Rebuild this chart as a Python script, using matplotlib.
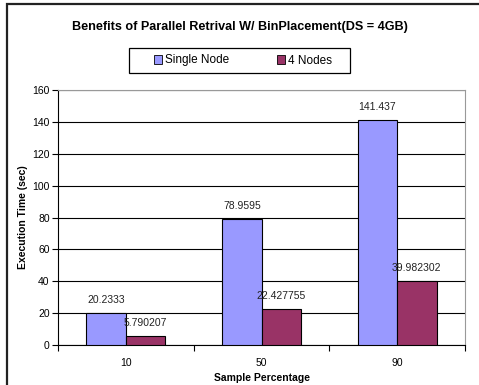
import matplotlib.pyplot as plt
from matplotlib.patches import Patch, Rectangle
import numpy as np

plt.rcParams['font.family'] = ['Liberation Sans', 'DejaVu Sans']

categories = ["10", "50", "90"]
single_node = [20.2333, 78.9595, 141.437]
four_nodes = [5.790207, 22.427755, 39.982302]
single_labels = ["20.2333", "78.9595", "141.437"]
four_labels = ["5.790207", "22.427755", "39.982302"]

W, H = 479, 385
fig = plt.figure(figsize=(W / 100, H / 100), dpi=100)

# chart frame (only left and top edges fall inside the image)
fig.patches.append(Rectangle((7 / W, -0.1), 1.2, 1 - 4 / H + 0.1, transform=fig.transFigure,
                             fill=False, edgecolor='#222222', linewidth=1.6))

ax = fig.add_axes([58 / W, 1 - 345 / H, 407 / W, 255 / H])

x = np.arange(len(categories))
bw = 0.29
b1 = ax.bar(x - bw / 2, single_node, bw, color='#9999FF', edgecolor='black', linewidth=0.8, zorder=3)
b2 = ax.bar(x + bw / 2, four_nodes, bw, color='#993366', edgecolor='black', linewidth=0.8, zorder=3)

for rect, lab in zip(b1, single_labels):
    ax.text(rect.get_x() + rect.get_width() / 2, rect.get_height() + 5, lab,
            ha='center', va='bottom', fontsize=7.5, color='#222222', zorder=4)
for rect, lab in zip(b2, four_labels):
    ax.text(rect.get_x() + rect.get_width() / 2, rect.get_height() + 5, lab,
            ha='center', va='bottom', fontsize=7.5, color='#222222', zorder=4)

ax.set_xlim(-0.5, 2.5)
ax.set_ylim(0, 160)
ax.set_yticks(range(0, 161, 20))
ax.yaxis.grid(True, color='black', linewidth=0.8, zorder=0)
ax.set_xticks(x)
ax.set_xticklabels(categories)
ax.set_xticks([-0.5, 0.5, 1.5, 2.5], minor=True)
ax.tick_params(axis='x', which='major', length=0, pad=9, labelsize=7.5)
ax.tick_params(axis='x', which='minor', length=4, direction='out', width=0.8)
ax.tick_params(axis='y', length=4, direction='out', width=0.8, labelsize=7.5, pad=2)

ax.spines['left'].set_linewidth(0.8)
ax.spines['bottom'].set_linewidth(0.8)
ax.spines['top'].set_color('#999999')
ax.spines['right'].set_color('#999999')

ax.set_xlabel("Sample Percentage", fontsize=7.5, fontweight='bold', labelpad=4)
ax.set_ylabel("Execution Time (sec)", fontsize=7.5, fontweight='bold', labelpad=3)

fig.text(0.5, 1 - 27 / H, "Benefits of Parallel Retrival W/ BinPlacement(DS = 4GB)",
         ha='center', va='center', fontsize=9.1, fontweight='bold')

# legend box drawn separately so it can be wider than its entries
fig.patches.append(Rectangle((129 / W, 1 - 73 / H), 221 / W, 25 / H, transform=fig.transFigure,
                             fill=False, edgecolor='black', linewidth=0.9))
handles = [Patch(facecolor='#9999FF', edgecolor='black', linewidth=0.6, label='Single Node'),
           Patch(facecolor='#993366', edgecolor='black', linewidth=0.6, label='4 Nodes')]
fig.legend(handles=handles, loc='center', bbox_to_anchor=(243 / W, 1 - 60.5 / H), ncol=2,
           fontsize=8.5, frameon=False,
           handlelength=0.7, handleheight=0.7, handletextpad=0.25, columnspacing=4.0)

fig.savefig("out.png", dpi=100)
